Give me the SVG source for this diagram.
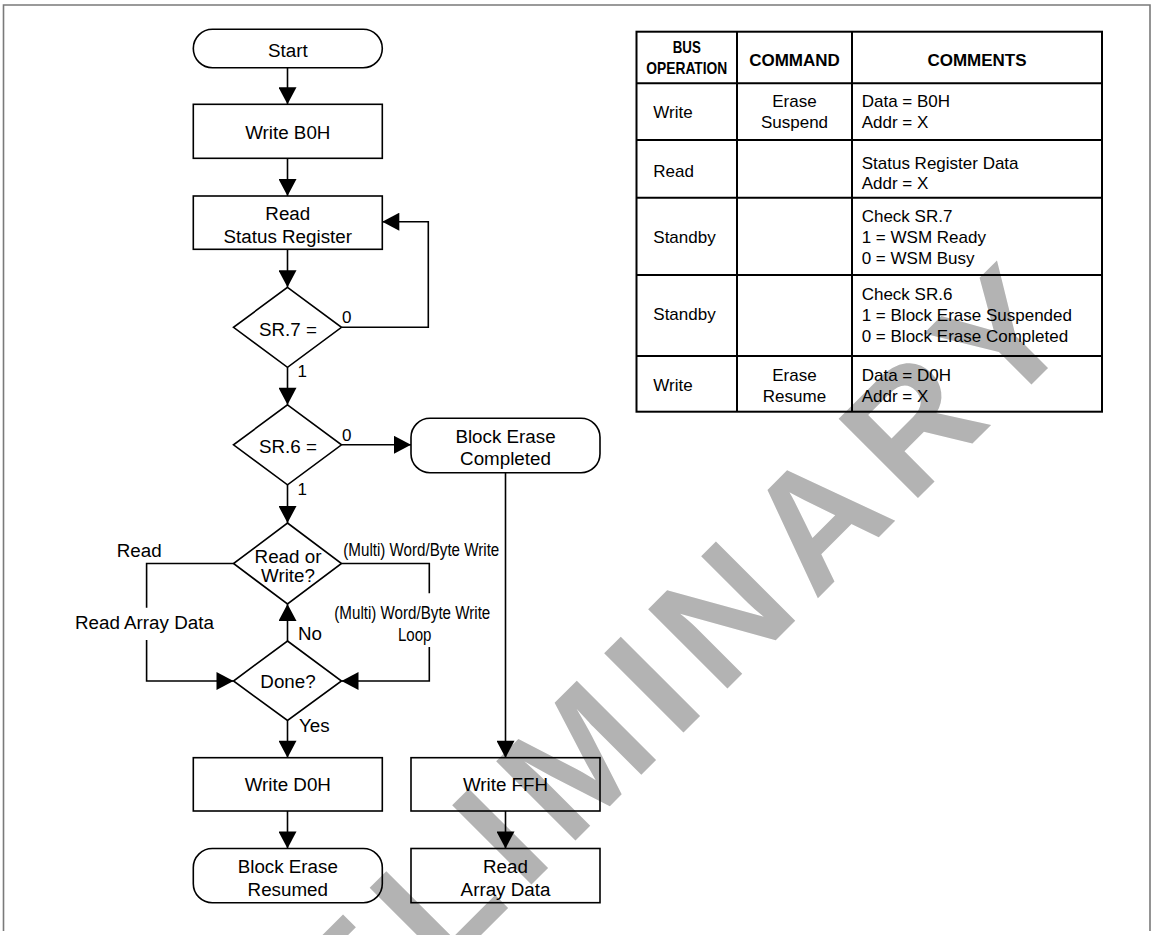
<svg xmlns="http://www.w3.org/2000/svg" width="1154" height="935" viewBox="0 0 1154 935">
<defs>
<style>
.t{font-family:"Liberation Sans",Arial,sans-serif;font-size:18.8px;fill:#000}
.tc{text-anchor:middle}
.lb{font-family:"Liberation Sans",Arial,sans-serif;font-size:17px;fill:#000}
.tb{font-family:"Liberation Sans",Arial,sans-serif;font-size:17px;fill:#000}
.th{font-family:"Liberation Sans",Arial,sans-serif;font-size:17px;font-weight:bold;fill:#000;text-anchor:middle}
.box{fill:none;stroke:#000;stroke-width:1.6}
.ln{fill:none;stroke:#000;stroke-width:1.6}
.arr{fill:none;stroke:#000;stroke-width:1.6;marker-end:url(#ah)}
.tbl{fill:none;stroke:#000;stroke-width:2}
.wm{font-family:"Liberation Sans",Arial,sans-serif;font-size:163px;font-weight:bold;fill:#b3b3b3;letter-spacing:17px}
</style>
<marker id="ah" markerUnits="userSpaceOnUse" markerWidth="18" markerHeight="18" viewBox="0 0 17 18" refX="17" refY="9" orient="auto">
<path d="M0,0 L17,9 L0,18 Z" fill="#000"/>
</marker>
</defs>
<rect x="0" y="0" width="1154" height="935" fill="#fff"/>
<g id="watermark">
<text class="wm" x="168.2" y="1247.8" transform="rotate(-45 168.2 1247.8)">PRELIMINARY</text>
</g>
<path d="M3.5,931 V5 H1150 V931" fill="none" stroke="#7a7a7a" stroke-width="1.6"/>

<g id="connectors">
<line class="arr" x1="287.5" y1="67.7" x2="287.5" y2="104.3"/>
<line class="arr" x1="287.5" y1="158.3" x2="287.5" y2="196"/>
<line class="arr" x1="287.5" y1="249.3" x2="287.5" y2="287.3"/>
<polyline class="arr" points="341.5,327.3 428.3,327.3 428.3,221.7 382.3,221.7"/>
<line class="arr" x1="287.5" y1="367.3" x2="287.5" y2="404.8"/>
<line class="arr" x1="341.5" y1="444.8" x2="411" y2="444.8"/>
<line class="arr" x1="287.5" y1="484.8" x2="287.5" y2="523"/>
<polyline class="ln" points="233.5,563.5 146.6,563.5 146.6,607.7"/>
<polyline class="arr" points="146.6,640 146.6,681 233.5,681"/>
<polyline class="ln" points="341.5,563.5 429.3,563.5 429.3,593.3"/>
<polyline class="arr" points="429.3,647 429.3,681 341.5,681"/>
<line class="arr" x1="287.5" y1="641" x2="287.5" y2="604"/>
<line class="arr" x1="287.5" y1="720.5" x2="287.5" y2="757.7"/>
<line class="arr" x1="287.5" y1="811" x2="287.5" y2="848.5"/>
<line class="arr" x1="505.5" y1="472.7" x2="505.5" y2="757.7"/>
<line class="arr" x1="505.5" y1="811" x2="505.5" y2="848.5"/>
<text class="lb" x="342" y="323.3">0</text>
<text class="lb" x="297.5" y="377">1</text>
<text class="lb" x="342" y="440.7">0</text>
<text class="lb" x="297.5" y="495">1</text>
<text class="t" x="116.7" y="556.7">Read</text>
<text class="t" x="343.3" y="556" textLength="156" lengthAdjust="spacingAndGlyphs">(Multi) Word/Byte Write</text>
<text class="t" x="75" y="629">Read Array Data</text>
<text class="t" x="334.3" y="618.5" textLength="156" lengthAdjust="spacingAndGlyphs">(Multi) Word/Byte Write</text>
<text class="t" x="398" y="641" textLength="33.5" lengthAdjust="spacingAndGlyphs">Loop</text>
<text class="t" x="298" y="640">No</text>
<text class="t" x="299" y="732">Yes</text>
</g>

<g id="start">
<rect class="box" x="193.3" y="29.3" width="189" height="38.4" rx="19.2"/>
<text class="t tc" x="287.8" y="56.5">Start</text>
</g>
<g id="write-b0h">
<rect class="box" x="193.3" y="104.3" width="189" height="54"/>
<text class="t tc" x="287.8" y="139">Write B0H</text>
</g>
<g id="read-status">
<rect class="box" x="193.3" y="196" width="189" height="53.3"/>
<text class="t tc" x="287.8" y="220">Read</text>
<text class="t tc" x="287.8" y="242.5">Status Register</text>
</g>
<g id="sr7">
<polygon class="box" points="287.5,287.3 341.5,327.3 287.5,367.3 233.5,327.3"/>
<text class="t tc" x="288" y="335.5">SR.7 =</text>
</g>
<g id="sr6">
<polygon class="box" points="287.5,404.8 341.5,444.8 287.5,484.8 233.5,444.8"/>
<text class="t tc" x="288" y="453">SR.6 =</text>
</g>
<g id="block-erase-completed">
<rect class="box" x="411" y="418.3" width="189" height="54.4" rx="19"/>
<text class="t tc" x="505.5" y="442.7">Block Erase</text>
<text class="t tc" x="505.5" y="465.3">Completed</text>
</g>
<g id="read-or-write">
<polygon class="box" points="287.5,523 341.5,563.5 287.5,604 233.5,563.5"/>
<text class="t tc" x="288" y="563">Read or</text>
<text class="t tc" x="288" y="582">Write?</text>
</g>
<g id="done">
<polygon class="box" points="287.5,641 341.5,681 287.5,720.5 233.5,681"/>
<text class="t tc" x="288" y="687.5">Done?</text>
</g>
<g id="write-d0h">
<rect class="box" x="193.3" y="757.7" width="189" height="53.3"/>
<text class="t tc" x="287.8" y="791">Write D0H</text>
</g>
<g id="block-erase-resumed">
<rect class="box" x="193.3" y="848.5" width="189" height="54.2" rx="19"/>
<text class="t tc" x="287.8" y="873">Block Erase</text>
<text class="t tc" x="287.8" y="896">Resumed</text>
</g>
<g id="write-ffh">
<rect class="box" x="411" y="757.7" width="189" height="53.3"/>
<text class="t tc" x="505.5" y="791">Write FFH</text>
</g>
<g id="read-array-data">
<rect class="box" x="411" y="848.5" width="189" height="54.2"/>
<text class="t tc" x="505.5" y="873">Read</text>
<text class="t tc" x="505.5" y="896">Array Data</text>
</g>

<g id="table">
<rect class="tbl" x="636.5" y="31.7" width="465.5" height="380"/>
<line class="tbl" x1="737" y1="31.7" x2="737" y2="411.7"/>
<line class="tbl" x1="852" y1="31.7" x2="852" y2="411.7"/>
<line class="tbl" x1="636.5" y1="83.3" x2="1102" y2="83.3"/>
<line class="tbl" x1="636.5" y1="140" x2="1102" y2="140"/>
<line class="tbl" x1="636.5" y1="197.7" x2="1102" y2="197.7"/>
<line class="tbl" x1="636.5" y1="275" x2="1102" y2="275"/>
<line class="tbl" x1="636.5" y1="356" x2="1102" y2="356"/>
<text class="th" x="686.8" y="53" textLength="28" lengthAdjust="spacingAndGlyphs">BUS</text>
<text class="th" x="686.8" y="74" textLength="81" lengthAdjust="spacingAndGlyphs">OPERATION</text>
<text class="th" x="794.5" y="65.5">COMMAND</text>
<text class="th" x="977" y="65.5">COMMENTS</text>
<text class="tb" x="653.3" y="117.5">Write</text>
<text class="tb" x="794.5" y="106.5" text-anchor="middle">Erase</text>
<text class="tb" x="794.5" y="127.5" text-anchor="middle">Suspend</text>
<text class="tb" x="861.7" y="106.5">Data = B0H</text>
<text class="tb" x="861.7" y="127.5">Addr = X</text>
<text class="tb" x="653.3" y="176.5">Read</text>
<text class="tb" x="861.7" y="168.5">Status Register Data</text>
<text class="tb" x="861.7" y="189">Addr = X</text>
<text class="tb" x="653.3" y="243">Standby</text>
<text class="tb" x="861.7" y="222">Check SR.7</text>
<text class="tb" x="861.7" y="243">1 = WSM Ready</text>
<text class="tb" x="861.7" y="264">0 = WSM Busy</text>
<text class="tb" x="653.3" y="319.5">Standby</text>
<text class="tb" x="861.7" y="299.5">Check SR.6</text>
<text class="tb" x="861.7" y="320.5">1 = Block Erase Suspended</text>
<text class="tb" x="861.7" y="341.5">0 = Block Erase Completed</text>
<text class="tb" x="653.3" y="390.5">Write</text>
<text class="tb" x="794.5" y="380.5" text-anchor="middle">Erase</text>
<text class="tb" x="794.5" y="401.5" text-anchor="middle">Resume</text>
<text class="tb" x="861.7" y="380.5">Data = D0H</text>
<text class="tb" x="861.7" y="401.5">Addr = X</text>
</g>
</svg>
